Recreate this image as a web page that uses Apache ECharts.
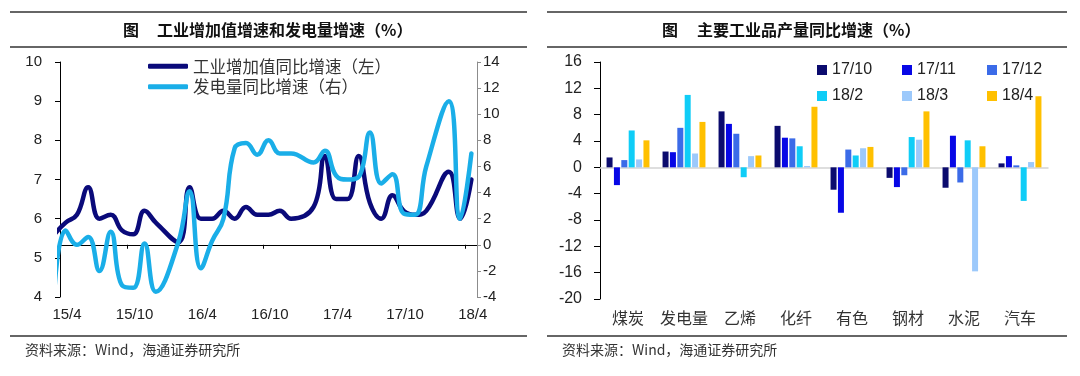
<!DOCTYPE html>
<html>
<head>
<meta charset="utf-8">
<script src="https://cdn.jsdelivr.net/npm/echarts@6/dist/echarts.min.js"></script>
<style>
html, body { margin: 0; padding: 0; background: #fff; }
#main { width: 1080px; height: 376px; }
</style>
</head>
<body>
<div id="main"></div>
<script>
// 左图：工业增加值、发电量同比（%），1-2月合并记在2月
var months = ['15/3', '15/4', '15/5', '15/6', '15/7', '15/8', '15/9', '15/10', '15/11', '15/12',
	'16/2', '16/3', '16/4', '16/5', '16/6', '16/7', '16/8', '16/9', '16/10', '16/11', '16/12',
	'17/2', '17/3', '17/4', '17/5', '17/6', '17/7', '17/8', '17/9', '17/10', '17/11', '17/12',
	'18/2', '18/3', '18/4'];
var ivaGrowth = [5.6, 5.9, 6.1, 6.8, 6.0, 6.1, 5.7, 5.6, 6.2, 5.9,
	5.4, 6.8, 6.0, 6.0, 6.2, 6.0, 6.3, 6.1, 6.1, 6.2, 6.0,
	6.3, 7.6, 6.5, 6.5, 7.6, 6.4, 6.0, 6.6, 6.2, 6.1, 6.2,
	7.2, 6.0, 7.0];
var powerGrowth = [-3.6, 1.1, 0.0, 0.6, -2.0, 1.0, -3.1, -3.3, 0.1, -3.6,
	0.2, 4.1, -1.8, 0.3, 2.0, 7.4, 7.8, 6.9, 8.0, 7.0, 7.0,
	6.3, 7.2, 5.3, 5.0, 5.2, 8.6, 4.7, 5.4, 2.4, 2.3, 6.0,
	11.0, 2.0, 7.0];
var monthTicks = ['15/4', '15/10', '16/4', '16/10', '17/4', '17/10', '18/4'];

// 右图：主要工业品产量同比（%）
var products = ['煤炭', '发电量', '乙烯', '化纤', '有色', '钢材', '水泥', '汽车'];
var periods = ['17/10', '17/11', '17/12', '18/2', '18/3', '18/4'];
var out1710 = [1.5, 2.4, 8.5, 6.3, -3.4, -1.6, -3.1, 0.6];
var out1711 = [-2.7, 2.3, 6.6, 4.5, -6.9, -3.0, 4.8, 1.7];
var out1712 = [1.1, 6.0, 5.1, 4.4, 2.7, -1.2, -2.3, 0.3];
var out1802 = [5.6, 11.0, -1.5, 3.2, 1.8, 4.6, 4.1, -5.1];
var out1803 = [1.2, 2.1, 1.7, 0.2, 2.9, 4.2, -15.8, 0.8];
var out1804 = [4.1, 6.9, 1.8, 9.2, 3.1, 8.5, 3.2, 10.8];

var periodColors = ['#0b0b6e', '#0707e6', '#3b6be8', '#0fcdf7', '#9cc9fb', '#ffc000'];
var FONT = '"Liberation Sans", "Noto Sans CJK SC", sans-serif';
var CJK = '"Noto Sans CJK SC", sans-serif';

// 月份 -> 横轴位置（以15/4刻度为0，每月1格，点落在月中）
function monthPos(label) {
	var p = label.split('/');
	return (+p[0] - 15) * 12 + (+p[1] - 4) + 0.5;
}

function toPoints(vals) {
	return months.map(function(m, i) {
		return [monthPos(m), vals[i]];
	});
}

var myChart = echarts.init(document.getElementById('main'));

var outSets = [out1710, out1711, out1712, out1802, out1803, out1804];
var barSeries = periods.map(function(p, i) {
	return {
		name: p,
		type: 'bar',
		xAxisIndex: 1,
		yAxisIndex: 2,
		barWidth: 6,
		barGap: '23%',
		itemStyle: { color: periodColors[i] },
		data: outSets[i]
	};
});

var option = {
	animation: false,
	textStyle: { fontFamily: FONT },
	grid: [
		{ left: 60, top: 62, width: 417, height: 235 },
		{ left: 600, top: 62, width: 448, height: 237 }
	],
	legend: [{
		data: ['工业增加值同比增速（左）', '发电量同比增速（右）'],
		orient: 'vertical',
		left: 143,
		top: 53,
		itemWidth: 40,
		itemHeight: 5,
		itemGap: 4,
		icon: 'roundRect',
		textStyle: { fontSize: 16.5, color: '#333', fontFamily: CJK }
	}, {
		data: periods,
		left: 812,
		top: 57,
		width: 250,
		itemWidth: 10,
		itemHeight: 10,
		itemGap: 10,
		icon: 'rect',
		formatter: '{a|{name}}',
		textStyle: {
			color: '#222',
			rich: { a: { width: 60, fontSize: 16, lineHeight: 20, fontFamily: FONT } }
		}
	}],
	xAxis: [{
		type: 'value',
		gridIndex: 0,
		min: 0,
		max: 37,
		interval: 6,
		splitLine: { show: false },
		axisLine: { lineStyle: { color: '#000' } },
		axisTick: { length: 4, lineStyle: { color: '#000' } },
		axisLabel: {
			fontSize: 15,
			color: '#222',
			margin: 10,
			padding: [0, 0, 0, 14],
			showMaxLabel: false,
			formatter: function(v) {
				return v % 6 === 0 && monthTicks[v / 6] ? monthTicks[v / 6] : '';
			}
		}
	}, {
		type: 'category',
		gridIndex: 1,
		data: products,
		axisLine: { show: false, onZero: false },
		axisTick: { show: false },
		axisLabel: { interval: 0, fontSize: 16, color: '#333', margin: 11, fontFamily: CJK }
	}, {
		type: 'category',
		gridIndex: 1,
		data: products,
		position: 'bottom',
		axisLine: { onZero: true, lineStyle: { color: '#d4d4d4', width: 1.5 } },
		axisTick: { interval: 0, length: 5, lineStyle: { color: '#d4d4d4' } },
		axisLabel: { show: false }
	}],
	yAxis: [{
		type: 'value',
		gridIndex: 0,
		position: 'left',
		min: 4,
		max: 10,
		interval: 1,
		splitLine: { show: false },
		axisLine: { show: true, lineStyle: { color: '#000' } },
		axisTick: { show: true, length: 5, lineStyle: { color: '#000' } },
		axisLabel: { fontSize: 15, color: '#222', margin: 18 }
	}, {
		type: 'value',
		gridIndex: 0,
		position: 'right',
		min: -4,
		max: 14,
		interval: 2,
		splitLine: { show: false },
		axisLine: { show: true, lineStyle: { color: '#8c8c8c' } },
		axisTick: { show: true, length: 4, lineStyle: { color: '#8c8c8c' } },
		axisLabel: { fontSize: 15, color: '#222', margin: 6 }
	}, {
		type: 'value',
		gridIndex: 1,
		min: -20,
		max: 16,
		interval: 4,
		splitLine: { show: false },
		axisLine: { show: true, lineStyle: { color: '#000' } },
		axisTick: { show: true, length: 6, lineStyle: { color: '#000' } },
		axisLabel: { fontSize: 16, color: '#222', margin: 18 }
	}],
	series: [{
		name: '工业增加值同比增速（左）',
		type: 'line',
		xAxisIndex: 0,
		yAxisIndex: 0,
		smooth: 0.45,
		showSymbol: false,
		lineStyle: { width: 4.5, color: '#0a0a7a', cap: 'round', join: 'round' },
		itemStyle: { color: '#0a0a7a' },
		data: toPoints(ivaGrowth)
	}, {
		name: '发电量同比增速（右）',
		type: 'line',
		xAxisIndex: 0,
		yAxisIndex: 1,
		smooth: 0.45,
		showSymbol: false,
		lineStyle: { width: 4.5, color: '#1aaee8', cap: 'round', join: 'round' },
		itemStyle: { color: '#1aaee8' },
		data: toPoints(powerGrowth)
	}].concat(barSeries),
	graphic: [
		{ type: 'line', shape: { x1: 10, y1: 12, x2: 527, y2: 12 }, style: { stroke: '#333', lineWidth: 1.5 } },
		{ type: 'line', shape: { x1: 10, y1: 47, x2: 527, y2: 47 }, style: { stroke: '#333', lineWidth: 1.5 } },
		{ type: 'line', shape: { x1: 10, y1: 336, x2: 527, y2: 336 }, style: { stroke: '#333', lineWidth: 1.5 } },
		{ type: 'line', shape: { x1: 547, y1: 12, x2: 1067, y2: 12 }, style: { stroke: '#333', lineWidth: 1.5 } },
		{ type: 'line', shape: { x1: 547, y1: 47, x2: 1067, y2: 47 }, style: { stroke: '#333', lineWidth: 1.5 } },
		{ type: 'line', shape: { x1: 547, y1: 336, x2: 1067, y2: 336 }, style: { stroke: '#333', lineWidth: 1.5 } },
		{ type: 'text', left: 123, top: 22, style: { text: '图', font: 'bold 16px "Noto Sans CJK SC"', fill: '#111' } },
		{ type: 'text', left: 157, top: 22, style: { text: '工业增加值增速和发电量增速（%）', font: 'bold 16px "Noto Sans CJK SC"', fill: '#111' } },
		{ type: 'text', left: 662, top: 22, style: { text: '图', font: 'bold 16px "Noto Sans CJK SC"', fill: '#111' } },
		{ type: 'text', left: 697, top: 22, style: { text: '主要工业品产量同比增速（%）', font: 'bold 16px "Noto Sans CJK SC"', fill: '#111' } },
		{ type: 'text', left: 25, top: 343, style: { text: '资料来源：Wind，海通证券研究所', font: '14px "Noto Sans CJK SC"', fill: '#333' } },
		{ type: 'text', left: 562, top: 343, style: { text: '资料来源：Wind，海通证券研究所', font: '14px "Noto Sans CJK SC"', fill: '#333' } }
	]
};

myChart.setOption(option);
</script>
</body>
</html>
